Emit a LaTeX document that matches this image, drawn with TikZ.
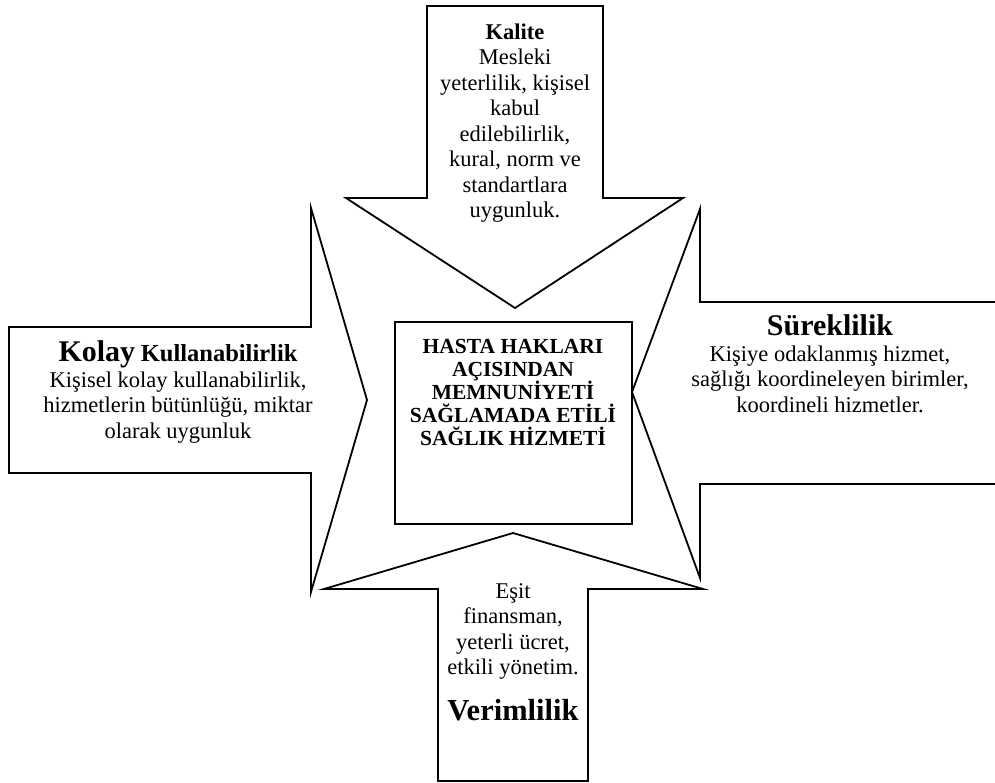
\documentclass[tikz,border=0pt]{standalone}
\usepackage{fontspec}
\setmainfont{Liberation Serif}
\begin{document}
\begin{tikzpicture}[
    x=1pt, y=-1pt,
    blockarrow/.style={draw, line width=1.8pt, fill=white, line join=miter},
    txt/.style={align=center, inner sep=0pt, anchor=base, font=\fontsize{22.5}{25.5}\selectfont}
]
\useasboundingbox (0,0) rectangle (995,783);

% Arrows
\draw[blockarrow] (427,6) -- (603,6) -- (603,198) -- (683,198) -- (515,308) -- (346,198) -- (427,198) -- cycle;
\draw[blockarrow] (9,327) -- (311,327) -- (311,208) -- (367,400) -- (311,592) -- (311,473) -- (9,473) -- cycle;
\draw[blockarrow] (1000,302) -- (700,302) -- (700,209) -- (632,392) -- (700,578) -- (700,484) -- (1000,484);
\draw[blockarrow] (513,533) -- (703,589) -- (588,589) -- (588,781) -- (438,781) -- (438,589) -- (324,589) -- cycle;

% Center box
\draw[line width=1.8pt] (395,322) rectangle (632,524);

% Texts (anchored at the last baseline)
\node[txt] (kalite) at (515,218) {\textbf{Kalite}\\Mesleki\\yeterlilik, kişisel\\kabul\\edilebilirlik,\\kural, norm ve\\standartlara\\uygunluk.};
\node[txt] (kolay) at (178,438) {{\fontsize{30}{34}\selectfont\bfseries Kolay} {\fontsize{24.5}{26}\selectfont\bfseries Kullanabilirlik}\\Kişisel kolay kullanabilirlik,\\hizmetlerin bütünlüğü, miktar\\olarak uygunluk};
\node[txt] (sureklilik) at (830,412) {{\fontsize{30}{34}\selectfont\bfseries Süreklilik}\\Kişiye odaklanmış hizmet,\\sağlığı koordineleyen birimler,\\koordineli hizmetler.};
\node[txt] (verimlilik) at (513,720) {Eşit\\finansman,\\yeterli ücret,\\etkili yönetim.\\[18pt]{\fontsize{30.5}{34}\selectfont\bfseries Verimlilik}};
\node[txt, font=\fontsize{21.5}{23}\selectfont\bfseries] (merkez) at (513,445) {HASTA HAKLARI\\AÇISINDAN\\MEMNUNİYETİ\\SAĞLAMADA ETİLİ\\SAĞLIK HİZMETİ};
\end{tikzpicture}
\end{document}
